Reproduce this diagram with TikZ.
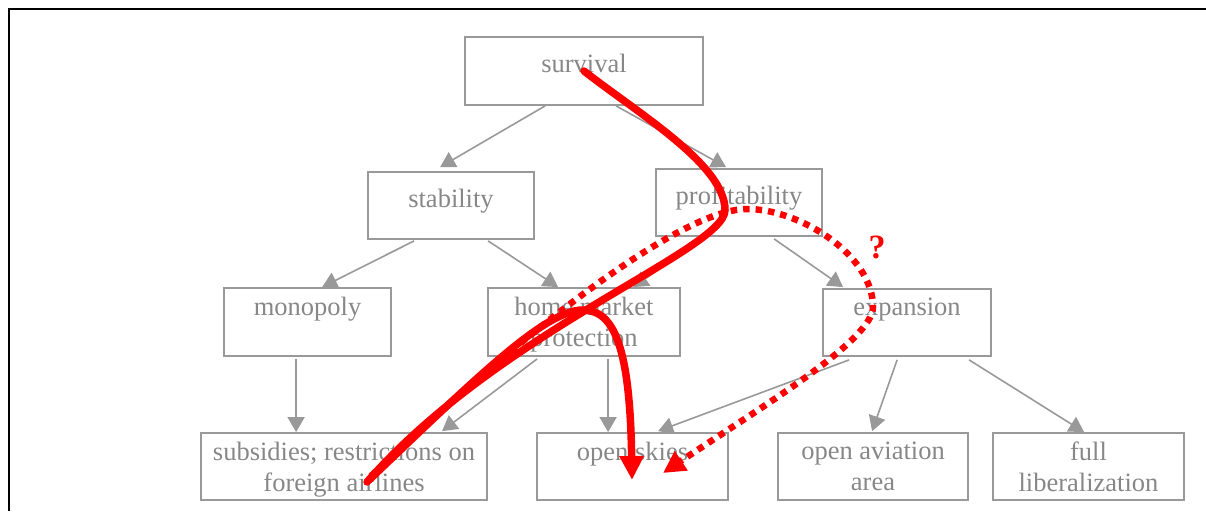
\documentclass[tikz,border=0pt]{standalone}
\usepackage{fontspec}
\setmainfont{Liberation Serif}
\usetikzlibrary{arrows.meta}
\definecolor{boxgray}{RGB}{153,153,153}
\definecolor{txtgray}{RGB}{135,135,135}
\definecolor{markred}{RGB}{255,0,0}
\begin{document}
\begin{tikzpicture}[x=1pt,y=-1pt,
  box/.style={draw=boxgray, line width=1.8pt, inner sep=0pt},
  lbl/.style={font=\fontsize{26.5}{31}\selectfont, text=txtgray, inner sep=0pt, align=center, anchor=north},
  arr/.style={draw=boxgray, line width=1.6pt, -{Triangle[length=15pt,width=17pt]}},
  redline/.style={draw=markred, line width=7.5pt, line cap=round},
  reddot/.style={draw=markred, line width=6.5pt, dash pattern=on 6.5pt off 6pt},
  qmark/.style={font=\fontsize{34}{34}\selectfont\bfseries, text=markred, inner sep=0pt}]
\useasboundingbox (0,0) rectangle (1206,511);

% frame
\draw[black, line width=2pt] (1206,9) -- (9,9) -- (9,511);

% goal hierarchy
\node[box, minimum width=238pt, minimum height=68pt,
  label={[lbl,yshift=-18pt]north:survival}] (surv) at (584,71) {};
\node[box, minimum width=166pt, minimum height=67pt,
  label={[lbl,yshift=-18pt]north:stability}] (stab) at (451,205.5) {};
\node[box, minimum width=166pt, minimum height=67pt,
  label={[lbl,yshift=-18pt]north:profitability}] (prof) at (739,202.5) {};
\node[box, minimum width=167pt, minimum height=68pt,
  label={[lbl,yshift=-10pt]north:monopoly}] (mono) at (307.5,322) {};
\node[box, minimum width=192pt, minimum height=68pt,
  label={[lbl,yshift=-10pt]north:{home market\\protection}}] (home) at (584,322) {};
\node[box, minimum width=168pt, minimum height=67pt,
  label={[lbl,yshift=-10pt]north:expansion}] (expa) at (907,322.5) {};
\node[box, minimum width=286pt, minimum height=67pt,
  label={[lbl,yshift=-10pt]north:{subsidies; restrictions on\\foreign airlines}}] (subs) at (344,466.5) {};
\node[box, minimum width=191pt, minimum height=67pt,
  label={[lbl,yshift=-10pt]north:open skies}] (osky) at (632.5,466.5) {};
\node[box, minimum width=190pt, minimum height=67pt,
  label={[lbl,yshift=-10pt]north:{open aviation\\area}}] (oaa) at (873,466.5) {};
\node[box, minimum width=191pt, minimum height=67pt,
  label={[lbl,yshift=-10pt]north:{full\\liberalization}}] (full) at (1088.5,466.5) {};

% hierarchy connectors
\draw[arr] ([xshift=81pt]surv.south west) -- ([xshift=73pt,yshift=4pt]stab.north west);
\draw[arr] ([xshift=152pt]surv.south west) -- ([xshift=71pt,yshift=1pt]prof.north west);
\draw[arr] ([xshift=47pt,yshift=-1pt]stab.south west) -- ([xshift=99pt]mono.north west);
\draw[arr] ([xshift=121pt,yshift=-1pt]stab.south west) -- ([xshift=71pt]home.north west);
\draw[arr] ([xshift=48pt,yshift=-2pt]prof.south west) -- ([xshift=146pt]home.north west);
\draw[arr] ([xshift=119pt,yshift=-2pt]prof.south west) -- ([xshift=21pt,yshift=1pt]expa.north west);
\draw[arr] ([xshift=73pt,yshift=-2pt]mono.south west) -- ([xshift=96pt]subs.north west);
\draw[arr] ([xshift=50pt,yshift=-2pt]home.south west) -- ([xshift=242pt,yshift=1pt]subs.north west);
\draw[arr] ([xshift=121pt,yshift=-2pt]home.south west) -- ([xshift=72pt]osky.north west);
\draw[arr] ([xshift=27pt,yshift=-3pt]expa.south west) -- ([xshift=122pt,yshift=1pt]osky.north west);
\draw[arr] ([xshift=75pt,yshift=-3pt]expa.south west) -- ([xshift=95pt,yshift=1pt]oaa.north west);
\draw[arr] ([xshift=147pt,yshift=-3pt]expa.south west) -- ([xshift=92pt]full.north west);

% ends of the hand-drawn paths
\coordinate (endA) at (367,482);
\coordinate (startB) at (369,480);
\coordinate (tipB) at (632,480);
\coordinate (startC) at (371,476);
\coordinate (tipC) at (663,473);

% hand-drawn paths
\draw[redline] (surv.center) .. controls (639,114) and (725,165) .. (725,210)
  .. controls (725,250) and (500,330) .. (endA);
\draw[redline, -{Triangle[length=24pt,width=23pt]}] (startB)
  .. controls (477,377) and (545,310) .. (583,310)
  .. controls (615,310) and (630,350) .. (tipB);
\draw[reddot, -{Triangle[length=22pt,width=22pt]}] (startC)
  .. controls (520,334) and (680,209) .. (747,209)
  .. controls (800,209) and (873,255) .. (873,307)
  .. controls (873,340) and (763,406) .. (tipC);
\node[qmark] (q) at (877,247) {?};
\end{tikzpicture}
\end{document}
